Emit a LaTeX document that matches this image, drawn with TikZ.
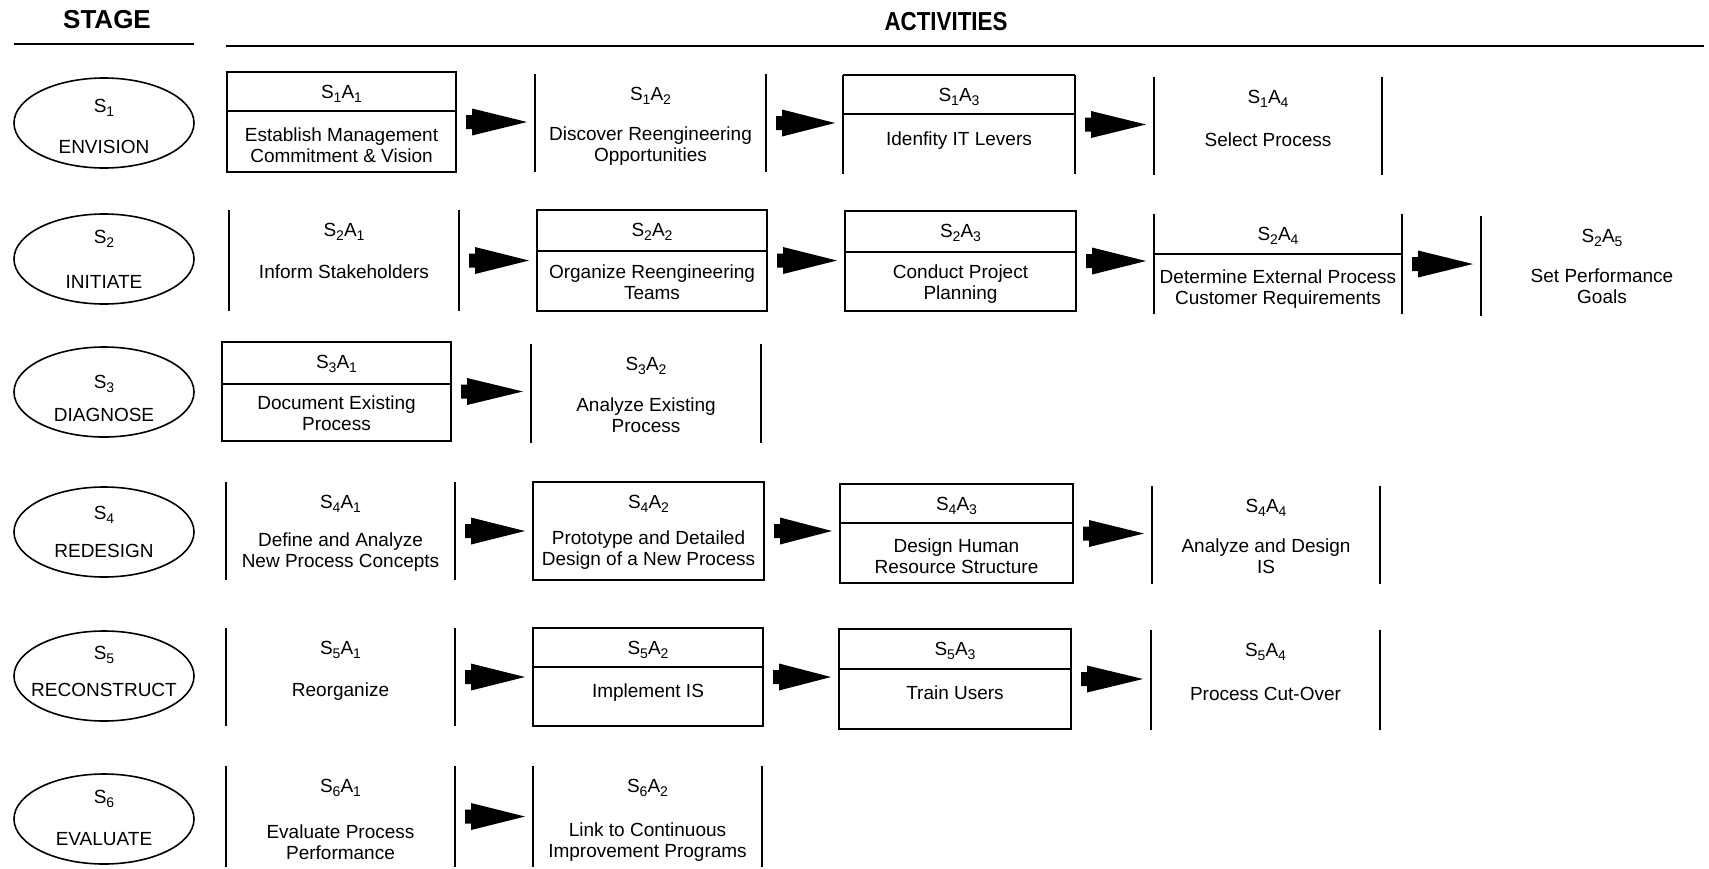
\documentclass[tikz,border=0pt]{standalone}
\usepackage{fontspec}
\setmainfont{Liberation Sans}
\usetikzlibrary{shapes.geometric,calc}

\newcommand\bodyfont{\fontsize{19}{20.5}\selectfont}
\newcommand\headfont{\fontsize{26}{30}\selectfont\bfseries}
\newcommand\lowidx[1]{\raisebox{-0.45ex}{\fontsize{14}{14}\selectfont#1}}
\newcommand\sa[2]{S\lowidx{#1}A\lowidx{#2}}

\tikzset{
  frame/.style={line width=1.8pt},
  headrule/.style={line width=2.4pt},
  cellarea/.style={inner sep=0pt, outer sep=0pt, draw=none},
  stageoval/.style={ellipse, draw, line width=1.6pt, minimum width=180pt,
    minimum height=90pt, inner sep=0pt},
  stxt/.style={inner sep=0pt, font=\bodyfont},
  lbl/.style={inner sep=0pt, font=\bodyfont},
  desc/.style={inner sep=0pt, align=center, font=\bodyfont},
  head/.style={inner sep=0pt, font=\headfont},
}

% activity area: name, left, right, top, bottom (pixel-like units, y downwards)
\newcommand\cellnode[5]{%
  \node[cellarea, minimum width={#3-#2}, minimum height={#5-#4}] (#1)
    at ({(#2+#3)/2},{(#4+#5)/2}) {};}
% label in the top part, description lower down
\newcommand\acttext[4]{%
  \node[lbl] (#1-l) at ($(#1.north)+(0,22)$) {#2};
  \node[desc] (#1-d) at ($(#1.north)+(0,#4)$) {#3};}
\newcommand\fullbox[1]{\draw[frame] (#1.north west) rectangle (#1.south east);}
\newcommand\sides[1]{\draw[frame] (#1.north west) -- (#1.south west)
  (#1.north east) -- (#1.south east);}
\newcommand\topline[1]{\draw[frame] (#1.north west) -- (#1.north east);}
\newcommand\divider[2]{\draw[frame] ($(#1.north west)+(0,#2)$) -- ($(#1.north east)+(0,#2)$);}
% block arrow between two activities: short stub, long triangular head
\newcommand\flow[2]{%
  \fill let \p1=($(#1.east)+(10,0)$), \p2=($(#1.east -| #2.west)+(-8,0)$) in
    (\x1,{\y1+7pt}) -- ({\x1+6pt},{\y1+7pt}) -- ({\x1+6pt},{\y1+13.5pt})
    -- (\x2,\y1) -- ({\x1+6pt},{\y1-13.5pt}) -- ({\x1+6pt},{\y1-7pt})
    -- (\x1,{\y1-7pt}) -- cycle;}
% stage oval: name, centre y, offset of S_n, offset of name, number, title
\newcommand\stagenode[6]{%
  \node[stageoval] (#1) at (104,#2) {};
  \node[stxt] (#1-s) at ($(#1)+(0,#3)$) {S\lowidx{#5}};
  \node[stxt] (#1-n) at ($(#1)+(0,#4)$) {#6};}

\begin{document}
\begin{tikzpicture}[x=1pt, y=-1pt]
\useasboundingbox (0,0) rectangle (1709,868);

% headings
\node[head] (stagehead) at (107,20) {STAGE};
\node[head] (acthead) at (946,22) {\scalebox{0.86}[1]{ACTIVITIES}};
\draw[headrule] (14,44) -- (194,44);
\draw[headrule] (226,46) -- (1704,46);

% ---- stages
\stagenode{st1}{123}{-15}{24}{1}{ENVISION}
\stagenode{st2}{259}{-20}{23}{2}{INITIATE}
\stagenode{st3}{392}{-8}{23}{3}{DIAGNOSE}
\stagenode{st4}{532}{-17}{19}{4}{REDESIGN}
\stagenode{st5}{676}{-21}{14}{5}{RECONSTRUCT}
\stagenode{st6}{819}{-20}{20}{6}{EVALUATE}

% ---- S1
\cellnode{s1a1}{227}{456}{72}{172}
\cellnode{s1a2}{535}{766}{74}{172}
\cellnode{s1a3}{843}{1075}{75}{174}
\cellnode{s1a4}{1154}{1382}{77}{175}
\fullbox{s1a1}\divider{s1a1}{39}
\sides{s1a2}
\sides{s1a3}\topline{s1a3}\divider{s1a3}{39}
\sides{s1a4}
\acttext{s1a1}{\sa11}{Establish Management\\Commitment \& Vision}{73}
\acttext{s1a2}{\sa12}{Discover Reengineering\\Opportunities}{72}
\acttext{s1a3}{\sa13}{Idenfity IT Levers}{66}
\acttext{s1a4}{\sa14}{Select Process}{63}
\flow{s1a1}{s1a2}
\flow{s1a2}{s1a3}
\flow{s1a3}{s1a4}

% ---- S2
\cellnode{s2a1}{229}{459}{210}{311}
\cellnode{s2a2}{537}{767}{210}{311}
\cellnode{s2a3}{845}{1076}{211}{311}
\cellnode{s2a4}{1154}{1402}{214}{314}
\cellnode{s2a5}{1481}{1723}{216}{316}
\sides{s2a1}
\fullbox{s2a2}\divider{s2a2}{41}
\fullbox{s2a3}\divider{s2a3}{41}
\sides{s2a4}\divider{s2a4}{40}
\draw[frame] (s2a5.north west) -- (s2a5.south west);
\acttext{s2a1}{\sa21}{Inform Stakeholders}{62}
\acttext{s2a2}{\sa22}{Organize Reengineering\\Teams}{72}
\acttext{s2a3}{\sa23}{Conduct Project\\Planning}{73}
\acttext{s2a4}{\sa24}{Determine External Process\\Customer Requirements}{75}
\acttext{s2a5}{\sa25}{Set Performance\\Goals}{70}
\flow{s2a1}{s2a2}
\flow{s2a2}{s2a3}
\flow{s2a3}{s2a4}
\flow{s2a4}{s2a5}

% ---- S3
\cellnode{s3a1}{222}{451}{342}{441}
\cellnode{s3a2}{531}{761}{344}{443}
\fullbox{s3a1}\divider{s3a1}{42}
\sides{s3a2}
\acttext{s3a1}{\sa31}{Document Existing\\Process}{71}
\acttext{s3a2}{\sa32}{Analyze Existing\\Process}{71}
\flow{s3a1}{s3a2}

% ---- S4
\cellnode{s4a1}{226}{455}{482}{580}
\cellnode{s4a2}{533}{764}{482}{580}
\cellnode{s4a3}{840}{1073}{484}{583}
\cellnode{s4a4}{1152}{1380}{486}{584}
\sides{s4a1}
\fullbox{s4a2}
\fullbox{s4a3}\divider{s4a3}{39}
\sides{s4a4}
\acttext{s4a1}{\sa41}{Define and Analyze\\New Process Concepts}{70}
\acttext{s4a2}{\sa42}{Prototype and Detailed\\Design of a New Process}{68}
\acttext{s4a3}{\sa43}{Design Human\\Resource Structure}{72}
\acttext{s4a4}{\sa44}{Analyze and Design\\IS}{70}
\flow{s4a1}{s4a2}
\flow{s4a2}{s4a3}
\flow{s4a3}{s4a4}

% ---- S5
\cellnode{s5a1}{226}{455}{628}{726}
\cellnode{s5a2}{533}{763}{628}{726}
\cellnode{s5a3}{839}{1071}{629}{729}
\cellnode{s5a4}{1151}{1380}{630}{730}
\sides{s5a1}
\fullbox{s5a2}\divider{s5a2}{39}
\fullbox{s5a3}\divider{s5a3}{40}
\sides{s5a4}
\acttext{s5a1}{\sa51}{Reorganize}{64}
\acttext{s5a2}{\sa52}{Implement IS}{65}
\acttext{s5a3}{\sa53}{Train Users}{64}
\acttext{s5a4}{\sa54}{Process Cut-Over}{64}
\flow{s5a1}{s5a2}
\flow{s5a2}{s5a3}
\flow{s5a3}{s5a4}

% ---- S6
\cellnode{s6a1}{226}{455}{766}{867}
\cellnode{s6a2}{533}{762}{766}{867}
\sides{s6a1}
\sides{s6a2}
\acttext{s6a1}{\sa61}{Evaluate Process\\Performance}{76}
\acttext{s6a2}{\sa62}{Link to Continuous\\Improvement Programs}{76}
\flow{s6a1}{s6a2}
\end{tikzpicture}
\end{document}
